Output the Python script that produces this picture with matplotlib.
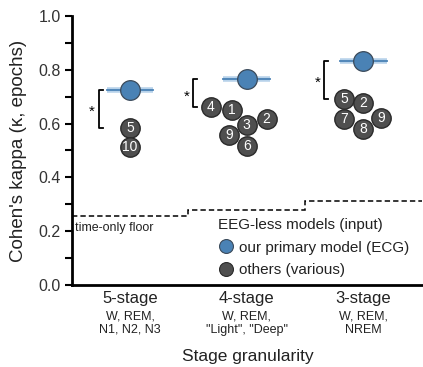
import matplotlib
matplotlib.use("Agg")
import matplotlib.pyplot as plt
from matplotlib.lines import Line2D
from matplotlib.ticker import MultipleLocator

plt.rcParams['font.family'] = ['Liberation Sans', 'DejaVu Sans']

# ---------------- data ----------------
categories = ["5-stage", "4-stage", "3-stage"]
sublabels = ["W, REM,\nN1, N2, N3", "W, REM,\n\"Light\", \"Deep\"", "W, REM,\nNREM"]
primary_kappa = [0.725, 0.767, 0.833]
floor_kappa = [0.257, 0.280, 0.313]
other_ids = [[5, 10], [4, 1, 3, 2, 9, 6], [5, 2, 7, 8, 9]]
other_kappa = [[0.585, 0.514],
               [0.660, 0.650, 0.596, 0.617, 0.558, 0.517],
               [0.692, 0.678, 0.617, 0.580, 0.620]]

# ---------------- layout (jitter, bracket positions) ----------------
other_dx = [[0.0, 0.0],
            [-0.31, -0.13, 0.0, 0.17, -0.15, 0.0],
            [-0.165, 0.0, -0.165, 0.0, 0.155]]
bracket_dx = [-0.27, -0.457, -0.334]
ci_half = 0.2

BLUE = '#4a82b5'
LIGHTBLUE = '#b7d2ea'
GRAY = '#4f4f4f'
EDGE = '#2a2a2a'

W, H = 423, 367
fig = plt.figure(figsize=(W / 100, H / 100), dpi=100)
ax = fig.add_axes([71.7 / W, 82 / H, 350 / W, 269 / H])

# floor step line
ax.stairs(floor_kappa, [-0.5, 0.5, 1.5, 2.5], baseline=None,
          color='black', linestyle=(0, (3.5, 2)), linewidth=1.1, zorder=1)
ax.text(-0.47, floor_kappa[0] - 0.022, "time-only floor", fontsize=9,
        ha='left', va='top', color='#222222')

for i in range(len(categories)):
    k = primary_kappa[i]
    # CI band/line
    ax.plot([i - ci_half, i + ci_half], [k, k], color=LIGHTBLUE, lw=4,
            solid_capstyle='butt', zorder=2)
    ax.plot([i - ci_half, i + ci_half], [k, k], color=BLUE, lw=1.3, zorder=3)
    ax.scatter([i], [k], s=200, color=BLUE, edgecolors='#3b4a5a',
               linewidths=0.9, zorder=5)
    # others
    for mid, mk, dx in zip(other_ids[i], other_kappa[i], other_dx[i]):
        ax.scatter([i + dx], [mk], s=195, color=GRAY, edgecolors=EDGE,
                   linewidths=1.0, zorder=4)
        ax.text(i + dx, mk, str(mid), color='white', fontsize=10,
                ha='center', va='center', zorder=6)
    # significance bracket
    bx = i + bracket_dx[i]
    top = k
    bot = max(other_kappa[i])
    ax.plot([bx + 0.035, bx, bx, bx + 0.035], [top, top, bot, bot],
            color='black', lw=1.3, zorder=3)
    ax.text(bx - 0.06, (top + bot) / 2 - 0.012, "*", fontsize=11,
            ha='center', va='center')

ax.set_xlim(-0.5, 2.5)
ax.set_ylim(0, 1.0)
ax.yaxis.set_major_locator(MultipleLocator(0.2))
ax.yaxis.set_minor_locator(MultipleLocator(0.1))
ax.set_yticklabels([f"{v:.1f}" for v in ax.get_yticks()])
ax.tick_params(axis='y', which='both', length=5, width=1.5, direction='out',
               labelsize=11.5, pad=3, colors='black', labelcolor='#333333')
ax.set_xticks(range(len(categories)), categories)
ax.tick_params(axis='x', length=0, labelsize=12, pad=4, labelcolor='#222222')
for s in ['top', 'right']:
    ax.spines[s].set_visible(False)
for s in ['left', 'bottom']:
    ax.spines[s].set_linewidth(2)

for i, sl in enumerate(sublabels):
    ax.annotate(sl, xy=(i, 0), xycoords=('data', 'axes fraction'),
                xytext=(0, -27.5), textcoords='offset points',
                ha='center', va='center', fontsize=9, linespacing=1.1,
                color='#222222')

ax.set_ylabel("Cohen's kappa (κ, epochs)", fontsize=13.5, color='#222222')
ax.yaxis.set_label_coords(-0.128, 0.5)
fig.text(248 / W, 1 - 356 / H, "Stage granularity", fontsize=12.5,
         ha='center', va='center', color='#222222')

handles = [Line2D([], [], marker='o', linestyle='none', markersize=10,
                  markerfacecolor=BLUE, markeredgecolor='#3b4a5a',
                  markeredgewidth=0.8, label='our primary model (ECG)'),
           Line2D([], [], marker='o', linestyle='none', markersize=10,
                  markerfacecolor=GRAY, markeredgecolor=EDGE,
                  markeredgewidth=0.8, label='others (various)')]
leg = ax.legend(handles=handles, title='EEG-less models (input)',
                loc='upper left', bbox_to_anchor=(0.41, 0.26),
                frameon=False, fontsize=11, title_fontsize=11,
                handlelength=1.0, handletextpad=0.35, borderpad=0.2,
                borderaxespad=0, labelspacing=0.55, alignment='left')
for t in leg.get_texts():
    t.set_color('#222222')
leg.get_title().set_color('#222222')

fig.savefig("out.png", dpi=100)
